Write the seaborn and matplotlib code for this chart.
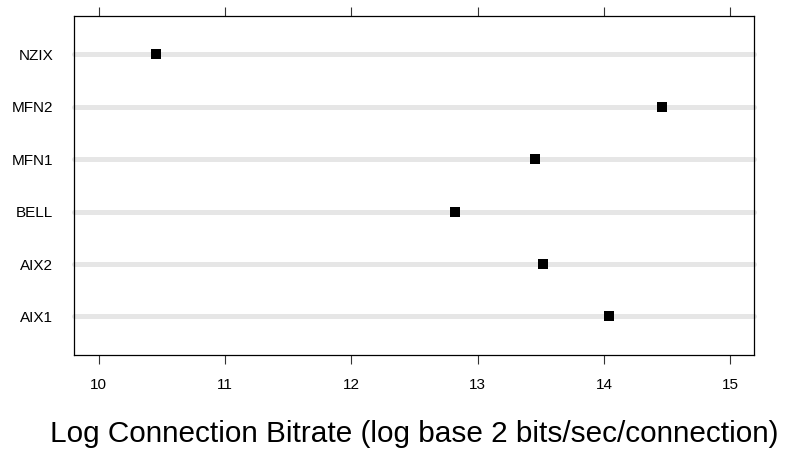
import matplotlib
matplotlib.use("Agg")
import matplotlib.pyplot as plt
import seaborn as sns
import pandas as pd

categories = ["NZIX", "MFN2", "MFN1", "BELL", "AIX2", "AIX1"]
values = [10.456, 14.456, 13.458, 12.824, 13.521, 14.044]
xticks = [10, 11, 12, 13, 14, 15]
xlabel = "Log Connection Bitrate (log base 2 bits/sec/connection)"

sns.set_theme(style="white")
plt.rcParams['font.family'] = ['Liberation Sans', 'DejaVu Sans']

df = pd.DataFrame({"site": categories, "bitrate": values})

fig = plt.figure(figsize=(7.86, 4.54), dpi=100)
ax = fig.add_axes([73.5 / 786, 1 - 355.3 / 454, (754.3 - 73.5) / 786, (355.3 - 15.5) / 454])

# grey reference lines, one per category
for i, _ in enumerate(categories):
    ax.axhline(i, color="#e6e6e6", lw=3.6, solid_capstyle="round", zorder=0, clip_on=False)

sns.stripplot(data=df, x="bitrate", y="site", order=categories, jitter=False,
              marker="s", size=7.9, color="black", linewidth=0, ax=ax, zorder=3)

ax.set_xlim(9.802, 15.19)
ax.set_ylim(len(categories) - 1 + 0.74, -0.74)
ax.set_xticks(xticks)
ax.set_xticklabels([str(t) for t in xticks])
ax.set_ylabel("")
ax.set_xlabel(xlabel, fontsize=21.4, labelpad=20, color="black")

for s in ax.spines.values():
    s.set_visible(True)
    s.set_color("black")
    s.set_linewidth(0.9)

ax.tick_params(axis="x", which="both", bottom=True, top=True, labeltop=False,
               direction="out", length=6.5, width=0.8, color="#333333",
               labelsize=11, pad=10, labelcolor="black")
ax.tick_params(axis="y", length=0, pad=14.5, labelsize=11, labelcolor="black")
ax.grid(False)

fig.savefig("out.png", dpi=100)
